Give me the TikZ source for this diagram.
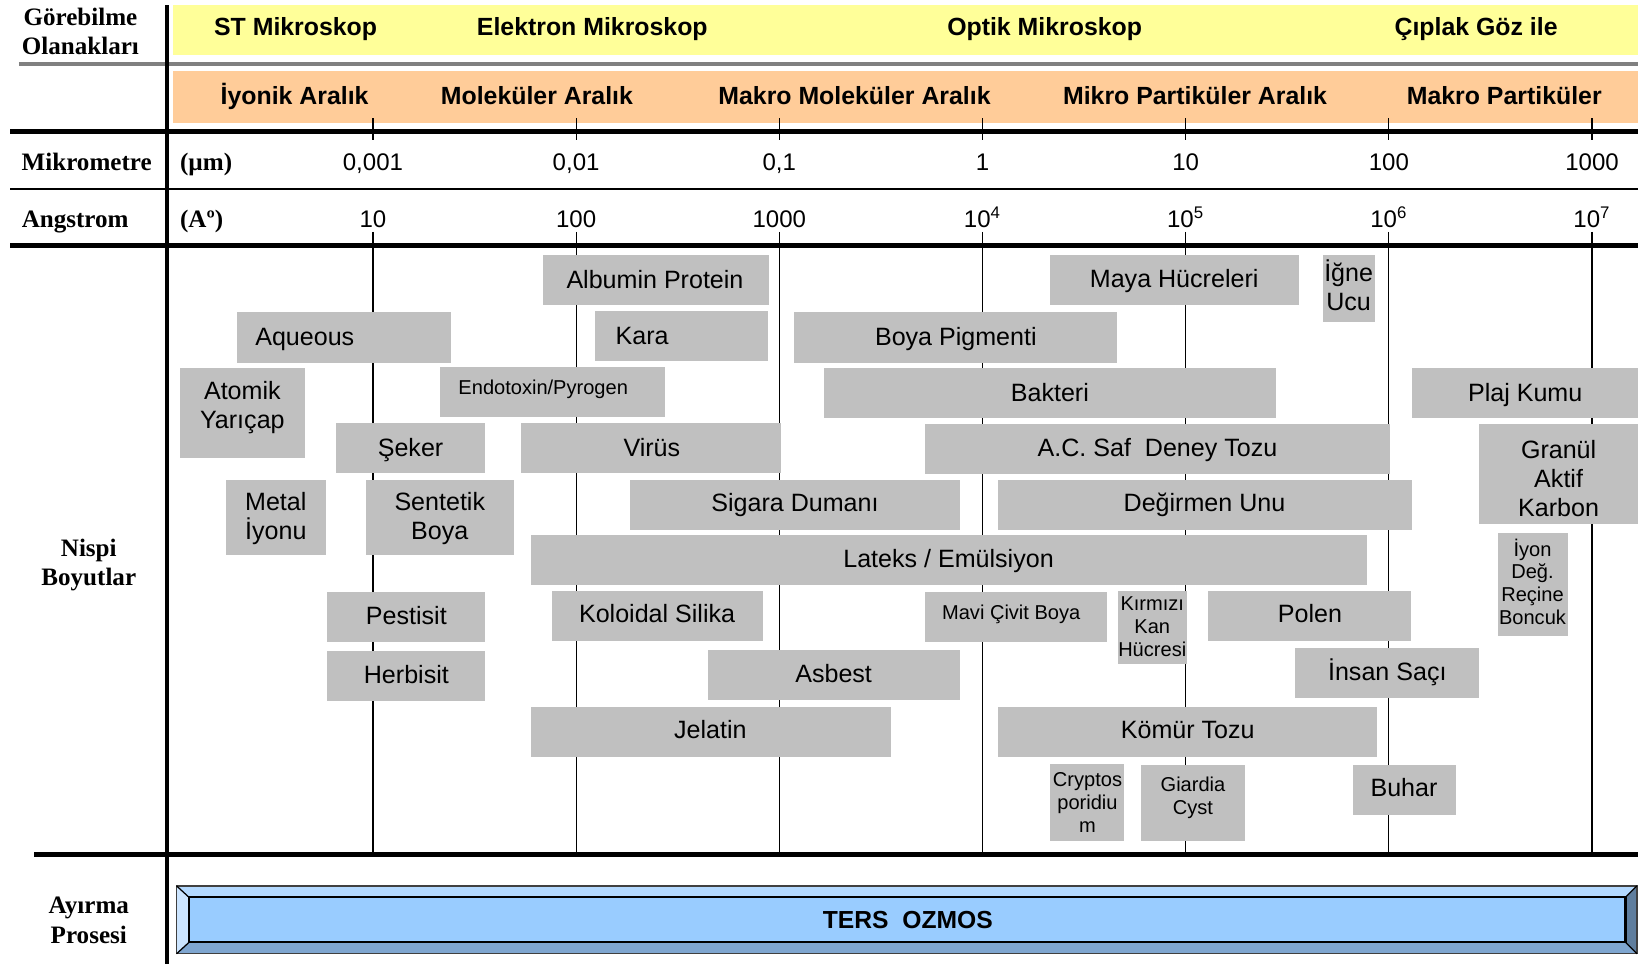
\documentclass[tikz,border=0pt]{standalone}
\usepackage{fontspec}
\setmainfont{Liberation Sans}
\newfontfamily\timesfont{Liberation Serif}

\definecolor{sarib}{HTML}{FFFF99}
\definecolor{turuncub}{HTML}{FFCC99}
\definecolor{kutugri}{HTML}{C0C0C0}
\definecolor{cizgigri}{HTML}{808080}
\definecolor{mavi}{HTML}{99CCFF}
\definecolor{mavia}{HTML}{B3D9FF}
\definecolor{maviaa}{HTML}{CCE5FF}
\definecolor{mavik}{HTML}{7FA6D0}
\definecolor{mavikk}{HTML}{5F7E9E}

\tikzset{
  kutu/.style={fill=kutugri},
  yazi/.style={font=\fontsize{12}{14}\selectfont, inner sep=0pt, align=center},
  kyazi/.style={font=\fontsize{9.6}{11}\selectfont, inner sep=0pt, align=center},
  baslik/.style={font=\bfseries\fontsize{11.9}{13}\selectfont, inner sep=0pt, anchor=base},
  solbaslik/.style={font=\timesfont\bfseries\fontsize{12}{14}\selectfont, inner sep=0pt, align=center},
  deger/.style={font=\fontsize{11.5}{13}\selectfont, inner sep=0pt, anchor=base},
  kalin/.style={line width=2.4pt},
  ince/.style={line width=0.6pt},
}

\begin{document}
\begin{tikzpicture}[x=0.5pt, y=-0.5pt]
\useasboundingbox (0,0) rectangle (1568,923);

% bantlar
\fill[sarib] (166,5) rectangle (1568,53);
\fill[turuncub] (166,68) rectangle (1568,118);
\draw[cizgigri, line width=1.9pt] (18,61) -- (1568,61);

\node[baslik] (st) at (283,34) {ST Mikroskop};
\node[baslik] (elektron) at (567,34) {Elektron Mikroskop};
\node[baslik] (optik) at (1000,34) {Optik Mikroskop};
\node[baslik] (ciplak) at (1413,34) {Çıplak Göz ile};

\node[baslik] (iyonik) at (282,100) {İyonik Aralık};
\node[baslik] (molekuler) at (514,100) {Moleküler Aralık};
\node[baslik] (makromol) at (818,100) {Makro Moleküler Aralık};
\node[baslik] (mikropar) at (1144,100) {Mikro Partiküler Aralık};
\node[baslik] (makropar) at (1440,100) {Makro Partiküler};

% tablo cizgileri
\draw[kalin] (10,126) -- (1568,126);
\draw[line width=0.75pt] (10,181) -- (1568,181);
\draw[kalin] (10,235) -- (1568,235);
\draw[kalin] (33,818) -- (1568,818);

% olcek
\foreach \i/\mu/\ang in {0/{0,001}/10, 1/{0,01}/100, 2/{0,1}/1000, 3/1/{10\textsuperscript{4}},
                         4/10/{10\textsuperscript{5}}, 5/100/{10\textsuperscript{6}}, 6/1000/{10\textsuperscript{7}}} {
  \draw[ince] (357+194.5*\i,113) -- (357+194.5*\i,134);
  \draw[ince] (357+194.5*\i,222) -- (357+194.5*\i,818);
  \node[deger] (mu\i) at (357+194.5*\i,163) {\mu};
  \node[deger] (ang\i) at (357+194.5*\i,218) {\ang};
}

\draw[line width=2.2pt] (160,5) -- (160,923);

% sol sutun
\node[solbaslik] (gorebilme) at (77,30) {Görebilme\\Olanakları};
\node[solbaslik, anchor=base] (mikrometre) at (83,163) {Mikrometre};
\node[solbaslik, anchor=base west] (mubirim) at (172,163) {(µm)};
\node[solbaslik, anchor=base] (angstrom) at (72,218) {Angstrom};
\node[solbaslik, anchor=base west] (angbirim) at (172,218) {(Aº)};
\node[solbaslik] (nispi) at (85,541) {Nispi\\Boyutlar};
\node[solbaslik] (ayirma) at (85,881) {Ayırma\\Prosesi};

% boyut kutulari
\fill[kutu] (520,244) rectangle (736,292);
\node[yazi, anchor=base] (albumin) at (627,276) {Albumin Protein};
\fill[kutu] (1005,244) rectangle (1243,292);
\node[yazi, anchor=base] (maya) at (1124,275) {Maya Hücreleri};
\fill[kutu] (1266,244) rectangle (1316,308);
\node[yazi] (igne) at (1291,273) {İğne\\Ucu};

\fill[kutu] (227,299) rectangle (432,347);
\node[yazi, anchor=base west] (aqueous) at (244,331) {Aqueous};
\fill[kutu] (570,298) rectangle (735,346);
\node[yazi, anchor=base west] (kara) at (589,330) {Kara};
\fill[kutu] (760,299) rectangle (1069,347);
\node[yazi, anchor=base] (boyapig) at (915,331) {Boya Pigmenti};

\fill[kutu] (172,352) rectangle (292,438);
\node[yazi] (atomik) at (232,390) {Atomik\\Yarıçap};
\fill[kutu] (421,351) rectangle (637,399);
\node[kyazi, anchor=base] (endotoxin) at (520,378) {Endotoxin/Pyrogen};
\fill[kutu] (789,352) rectangle (1221,400);
\node[yazi, anchor=base] (bakteri) at (1005,384) {Bakteri};
\fill[kutu] (1352,352) rectangle (1568,400);
\node[yazi, anchor=base] (plaj) at (1460,384) {Plaj Kumu};

\fill[kutu] (322,405) rectangle (464,453);
\node[yazi, anchor=base] (seker) at (393,437) {Şeker};
\fill[kutu] (499,405) rectangle (748,453);
\node[yazi, anchor=base] (virus) at (624,437) {Virüs};
\fill[kutu] (885,406) rectangle (1331,454);
\node[yazi, anchor=base] (acsaf) at (1108,437) {A.C. Saf\ \ Deney Tozu};
\fill[kutu] (1416,406) rectangle (1568,502);
\node[yazi] (granul) at (1492,458) {Granül\\Aktif\\Karbon};

\fill[kutu] (216,459) rectangle (312,531);
\node[yazi] (metal) at (264,496) {Metal\\İyonu};
\fill[kutu] (350,459) rectangle (492,531);
\node[yazi] (sentetik) at (421,496) {Sentetik\\Boya};
\fill[kutu] (603,459) rectangle (919,507);
\node[yazi, anchor=base] (sigara) at (761,490) {Sigara Dumanı};
\fill[kutu] (955,459) rectangle (1352,507);
\node[yazi, anchor=base] (degirmen) at (1153,490) {Değirmen Unu};

\fill[kutu] (508,512) rectangle (1309,560);
\node[yazi, anchor=base] (lateks) at (908,543) {Lateks / Emülsiyon};
\fill[kutu] (1434,510) rectangle (1501,609);
\node[kyazi] (iyondeg) at (1467,557) {İyon\\Değ.\\Reçine\\Boncuk};

\fill[kutu] (313,567) rectangle (464,615);
\node[yazi, anchor=base] (pestisit) at (389,598) {Pestisit};
\fill[kutu] (528,566) rectangle (730,614);
\node[yazi, anchor=base] (koloidal) at (629,596) {Koloidal Silika};
\fill[kutu] (885,567) rectangle (1060,615);
\node[kyazi, anchor=base] (mavicivit) at (968,593) {Mavi Çivit Boya};
\fill[kutu] (1070,566) rectangle (1136,636);
\node[kyazi] (kirmizi) at (1103,600) {Kırmızı\\Kan\\Hücresi};
\fill[kutu] (1156,566) rectangle (1351,614);
\node[yazi, anchor=base] (polen) at (1254,596) {Polen};

\fill[kutu] (313,623) rectangle (464,671);
\node[yazi, anchor=base] (herbisit) at (389,654) {Herbisit};
\fill[kutu] (678,622) rectangle (919,670);
\node[yazi, anchor=base] (asbest) at (798,653) {Asbest};
\fill[kutu] (1240,620) rectangle (1416,668);
\node[yazi, anchor=base] (insan) at (1328,651) {İnsan Saçı};

\fill[kutu] (508,677) rectangle (853,725);
\node[yazi, anchor=base] (jelatin) at (680,707) {Jelatin};
\fill[kutu] (955,677) rectangle (1318,725);
\node[yazi, anchor=base] (komur) at (1137,707) {Kömür Tozu};

\fill[kutu] (1005,731) rectangle (1076,805);
\node[kyazi] (cryptos) at (1041,768) {Cryptos\\poridiu\\m};
\fill[kutu] (1092,732) rectangle (1192,805);
\node[kyazi] (giardia) at (1142,764) {Giardia\\Cyst};
\fill[kutu] (1295,732) rectangle (1394,780);
\node[yazi, anchor=base] (buhar) at (1344,762) {Buhar};

% ters ozmos cubugu
\fill[mavia] (169,848) -- (1567,848) -- (1556,859) -- (181,859) -- cycle;
\fill[maviaa] (169,848) -- (181,859) -- (181,902) -- (169,913) -- cycle;
\fill[mavik] (169,913) -- (181,902) -- (1556,902) -- (1567,913) -- cycle;
\fill[mavikk] (1567,848) -- (1556,859) -- (1556,902) -- (1567,913) -- cycle;
\draw[fill=mavi, line width=1pt] (181,859) rectangle (1556,902);
\draw[black!75, line width=0.6pt] (169,848) rectangle (1567,913);
\draw[line width=0.6pt] (169,848) -- (181,859) (169,913) -- (181,902)
  (1567,848) -- (1556,859) (1567,913) -- (1556,902);
\node[baslik, font=\bfseries\fontsize{11.8}{13}\selectfont] (ters) at (869,889) {TERS\ \ OZMOS};

\end{tikzpicture}
\end{document}
